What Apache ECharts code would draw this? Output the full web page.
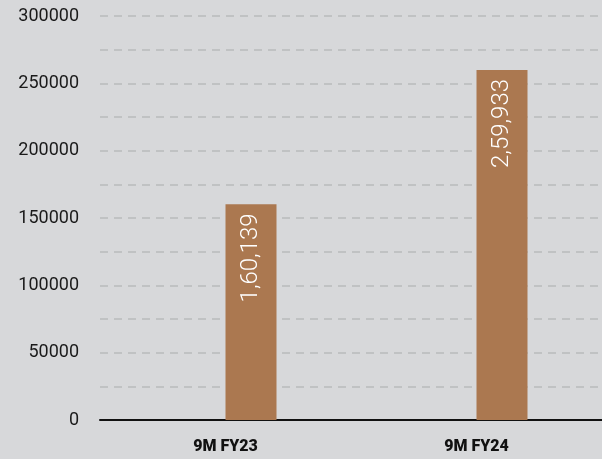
<!DOCTYPE html>
<html>
<head>
<meta charset="utf-8">
<script src="https://cdn.jsdelivr.net/npm/echarts@6/dist/echarts.min.js"></script>
<style>
  html, body { margin: 0; padding: 0; background: #d7d8da; }
  #main { width: 602px; height: 459px; }
</style>
</head>
<body>
<div id="main"></div>
<script>
var categories = ['9M FY23', '9M FY24'];
var values = [160139, 259933];

// Indian digit grouping: 1,60,139
function indian(n) {
  var s = String(Math.round(n));
  if (s.length <= 3) return s;
  var last3 = s.slice(-3);
  var rest = s.slice(0, -3).replace(/\B(?=(\d{2})+(?!\d))/g, ',');
  return rest + ',' + last3;
}

var chart = echarts.init(document.getElementById('main'));
chart.setOption({
  backgroundColor: '#d7d8da',
  animation: false,
  grid: { left: 100, right: -2, top: 16, bottom: 39 },
  xAxis: {
    type: 'category',
    data: categories,
    axisLine: { lineStyle: { color: '#111', width: 2 } },
    axisTick: { show: false },
    axisLabel: {
      margin: 19,
      color: '#111',
      fontSize: 16,
      fontWeight: 900,
      fontFamily: 'Roboto, sans-serif'
    }
  },
  yAxis: {
    type: 'value',
    min: 0,
    max: 300000,
    interval: 25000,
    axisLine: { show: false },
    axisTick: { show: false },
    axisLabel: {
      margin: 21,
      color: '#1a1a1a',
      fontSize: 18,
      fontFamily: 'Roboto, sans-serif',
      formatter: function (v) { return v % 50000 === 0 ? String(v) : ''; }
    },
    splitLine: { lineStyle: { color: '#b9babc', width: 1.5, type: [8, 6] } }
  },
  series: [
    { type: 'bar', data: [], barWidth: 51, barGap: '0%' },
    {
      type: 'bar',
      data: values,
      barWidth: 51,
      itemStyle: { color: '#ab7850' },
      label: {
        show: true,
        position: 'insideTop',
        rotate: 90,
        align: 'right',
        verticalAlign: 'middle',
        distance: 9,
        color: '#ffffff',
        fontSize: 24,
        fontFamily: 'Roboto, sans-serif',
        fontWeight: 300,
        formatter: function (p) { return indian(p.value); }
      }
    }
  ]
});
</script>
</body>
</html>
